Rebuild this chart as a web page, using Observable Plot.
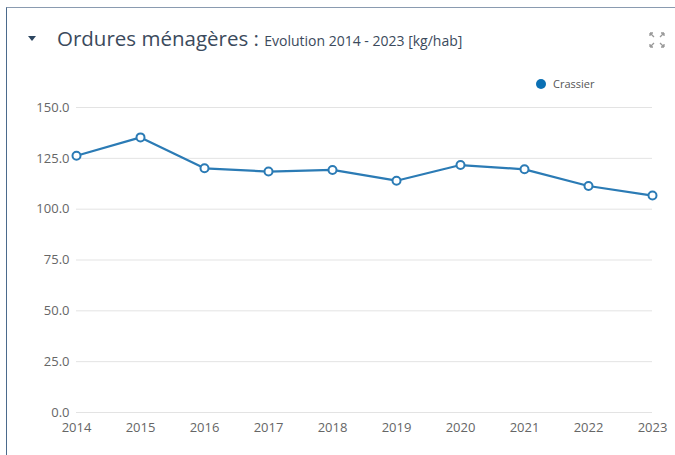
<!DOCTYPE html>
<html>
<head>
<meta charset="utf-8">
<script src="https://cdn.jsdelivr.net/npm/d3@7"></script>
<script src="https://cdn.jsdelivr.net/npm/@observablehq/plot@0.6"></script>
<style>
  html, body { margin: 0; padding: 0; background: #fff; }
  body { width: 675px; height: 455px; position: relative; overflow: hidden; font-family: "Open Sans", sans-serif; }
  #frame { position: absolute; left: 6px; top: 7px; width: 700px; height: 460px; border-left: 1.5px solid #4b6a8c; border-top: 1.5px solid #8a9bb0; }
  #caret { position: absolute; left: 28px; top: 36px; width: 0; height: 0; border-left: 4px solid transparent; border-right: 4px solid transparent; border-top: 5px solid #2d4660; }
  #title { position: absolute; left: 57px; top: 24px; color: #3b4a5c; white-space: nowrap; }
  #title .main { font-size: 20.5px; }
  #title .sub { font-size: 14px; }
  #expand { position: absolute; left: 648px; top: 31px; }
  #legend { position: absolute; left: 536px; top: 76px; font-size: 11px; color: #555; display: flex; align-items: center; }
  #legend .dot { width: 10px; height: 10px; border-radius: 50%; background: #0b70b4; margin-right: 7px; }
  #chart { position: absolute; left: 0; top: 60px; }
</style>
</head>
<body>
<div id="frame"></div>
<div id="caret"></div>
<div id="title"><span class="main">Ordures ménagères : </span><span class="sub">Evolution 2014 - 2023 [kg/hab]</span></div>
<svg id="expand" width="18" height="18" viewBox="0 0 18 18">
  <g stroke="#999" stroke-width="1.3" fill="none">
    <path d="M2 2 L6 6 M2 2 L2 5 M2 2 L5 2"/>
    <path d="M16 2 L12 6 M16 2 L16 5 M16 2 L13 2"/>
    <path d="M2 16 L6 12 M2 16 L2 13 M2 16 L5 16"/>
    <path d="M16 16 L12 12 M16 16 L16 13 M16 16 L13 16"/>
  </g>
</svg>
<div id="legend"><div class="dot"></div><span>Crassier</span></div>
<div id="chart"></div>
<script>
const years = [2014, 2015, 2016, 2017, 2018, 2019, 2020, 2021, 2022, 2023];
const crassier = [126.3, 135.3, 120.1, 118.5, 119.3, 114.0, 121.7, 119.6, 111.4, 106.7];
const yTicks = [0, 25, 50, 75, 100, 125, 150];
const seriesName = "Crassier";

const data = years.map((y, i) => ({year: y, value: crassier[i], series: seriesName}));

const lineColor = "#2b7bb5";

const chart = Plot.plot({
  width: 675,
  height: 395,
  marginLeft: 76,
  marginRight: 23,
  marginTop: 47,
  marginBottom: 43,
  style: {fontFamily: "Open Sans, sans-serif", fontSize: "13px", color: "#666", background: "transparent"},
  x: {type: "point", domain: years, padding: 0, label: null},
  y: {domain: [0, 150], label: null},
  marks: [
    Plot.gridY(yTicks, {stroke: "#e3e3e3", strokeOpacity: 1, strokeWidth: 1}),
    Plot.axisY(yTicks, {tickSize: 0, tickPadding: 7, tickFormat: d => d.toFixed(1), fill: "#666", fontSize: 13, label: null}),
    Plot.axisX(years, {tickSize: 0, tickPadding: 10, tickFormat: d => String(d), fill: "#666", fontSize: 13, label: null}),
    Plot.lineY(data, {x: "year", y: "value", stroke: lineColor, strokeWidth: 2.2}),
    Plot.dot(data, {x: "year", y: "value", r: 4, fill: "white", stroke: lineColor, strokeWidth: 2})
  ]
});
document.getElementById("chart").appendChild(chart);
</script>
</body>
</html>
